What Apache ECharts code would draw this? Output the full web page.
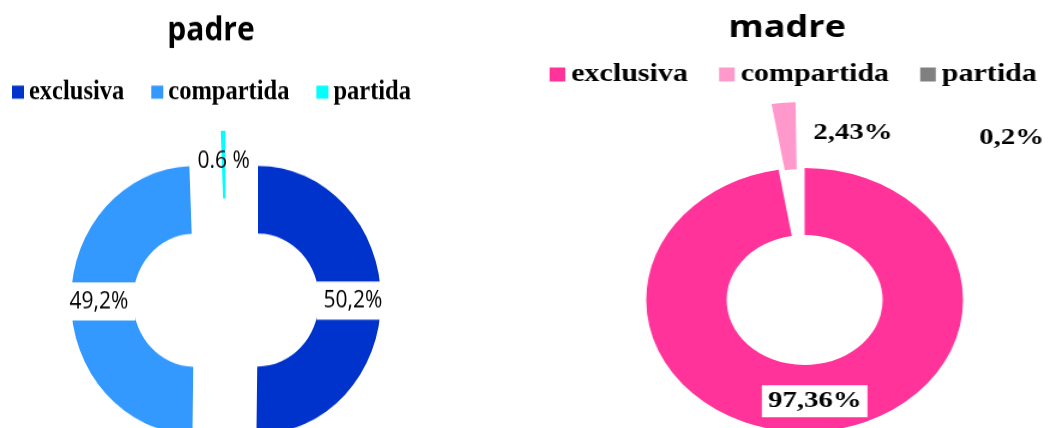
<!DOCTYPE html>
<html>
<head>
<meta charset="utf-8">
<script src="https://cdn.jsdelivr.net/npm/echarts@6/dist/echarts.min.js"></script>
<style>
  html, body { margin: 0; padding: 0; background: #fff; }
  body { width: 1056px; height: 428px; position: relative; overflow: hidden; }
  /* the source image is stretched a bit differently on each side */
  #padre { position: absolute; left: 0; top: 0; width: 528px; height: 393px;
           transform: scaleY(1.09); transform-origin: 0 0; }
  #madre { position: absolute; left: 528px; top: 0; width: 440px; height: 428px;
           transform: scaleX(1.2); transform-origin: 0 0; }
</style>
</head>
<body>
<div id="padre"></div>
<div id="madre"></div>
<script>
const categories = ['exclusiva', 'compartida', 'partida']

const padreValues = [50.2, 49.2, 0.6]
const padreLabels = ['50,2%', '49,2%', '0.6 %']

const madreValues = [97.36, 2.43, 0.2]
const madreLabels = ['97,36%', '2,43%', '0,2%']

const padreColors = ['#0033cc', '#3399ff', '#00ffff']
const madreColors = ['#ff3399', '#ff99cc', '#808080']

const sans = '"Open Sans", "Noto Sans", sans-serif'
const serif = '"Liberation Serif", "DejaVu Serif", serif'

const padreOption = {
  animation: false,
  title: {
    text: 'padre', left: 206, top: 8, textAlign: 'center',
    textStyle: { fontFamily: sans, fontSize: 30, fontWeight: 'bold', color: '#000' }
  },
  legend: {
    left: 7, top: 67, itemWidth: 12, itemHeight: 12, itemGap: 27, icon: 'rect',
    selectedMode: false,
    textStyle: { fontFamily: serif, fontSize: 24.5, fontWeight: 'bold', color: '#000' },
    data: categories
  },
  series: [{
    type: 'pie',
    center: [226, 275],
    radius: [61, 123],
    startAngle: 90,
    selectedMode: 'multiple',
    selectedOffset: 32,
    avoidLabelOverlap: false,
    silent: true,
    label: {
      show: true, position: 'inside',
      fontFamily: sans, fontSize: 21, color: '#000',
      backgroundColor: '#fff', padding: [7, 7]
    },
    labelLine: { show: false },
    data: categories.map((name, i) => ({
      name,
      value: padreValues[i],
      selected: true,
      itemStyle: { color: padreColors[i] },
      label: i === 2 ? { formatter: padreLabels[i], backgroundColor: 'transparent', padding: 0 }
                     : { formatter: padreLabels[i] }
    }))
  }]
}

const madreOption = {
  animation: false,
  title: {
    text: 'madre', left: 211, top: 8, textAlign: 'center',
    textStyle: { fontFamily: sans, fontSize: 30, fontWeight: 'bold', color: '#000' }
  },
  legend: {
    left: 13, top: 57, itemWidth: 13, itemHeight: 14, itemGap: 26, icon: 'rect',
    selectedMode: false,
    textStyle: { fontFamily: serif, fontSize: 25, fontWeight: 'bold', color: '#000' },
    data: categories.map((name, i) => ({ name, itemStyle: { color: madreColors[i], opacity: 1 } }))
  },
  series: [{
    type: 'pie',
    center: [230.5, 300],
    radius: [65, 132],
    startAngle: 90,
    selectedMode: 'single',
    selectedOffset: 66,
    avoidLabelOverlap: false,
    silent: true,
    label: {
      show: true, position: 'inside',
      fontFamily: serif, fontSize: 24, fontWeight: 'bold', color: '#000'
    },
    labelLine: { show: false },
    labelLayout: (p) => {
      if (p.dataIndex === 2) return { x: 403, y: 138, align: 'center', verticalAlign: 'middle' }
      return {}
    },
    data: categories.map((name, i) => ({
      name,
      value: madreValues[i],
      selected: i === 1,
      // partida is too thin to show in the source, only its label and legend entry remain
      itemStyle: { color: madreColors[i], opacity: i === 2 ? 0 : 1 },
      label: i === 0
        ? { formatter: madreLabels[i], backgroundColor: '#fff', padding: [4, 5] }
        // the selected slice keeps its own label spot, so push the text right with padding
        : i === 1
          ? { formatter: madreLabels[i], padding: [13, 0, 0, 110] }
          : { formatter: madreLabels[i], opacity: 1 }
    }))
  }]
}

const padreChart = echarts.init(document.getElementById('padre'))
padreChart.setOption(padreOption)
const madreChart = echarts.init(document.getElementById('madre'))
madreChart.setOption(madreOption)
</script>
</body>
</html>
